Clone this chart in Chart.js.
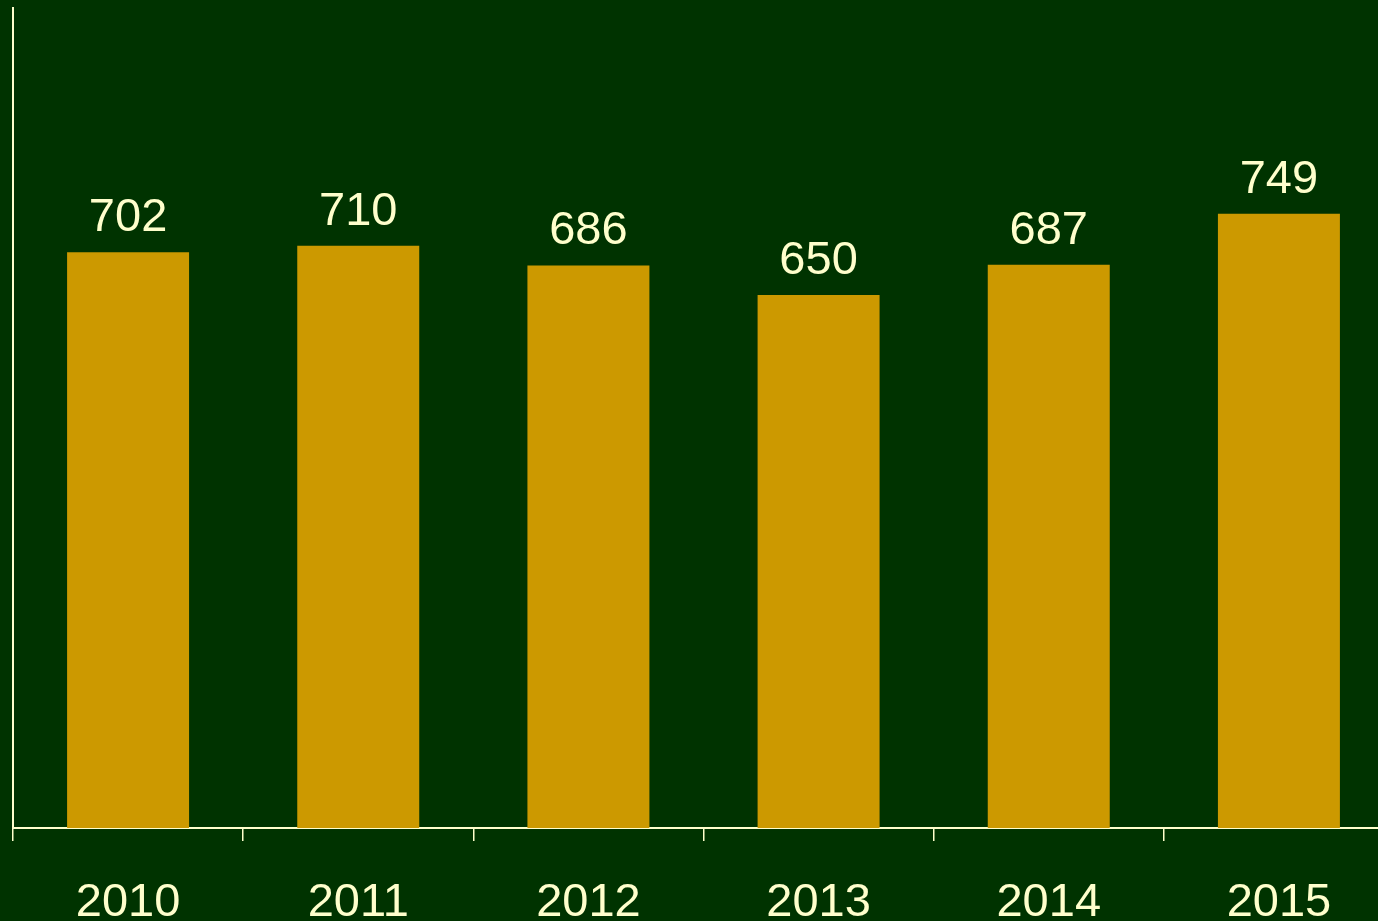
<!DOCTYPE html>
<html>
<head>
<meta charset="utf-8">
<script src="https://cdn.jsdelivr.net/npm/chart.js@4/dist/chart.umd.min.js"></script>
<style>
  html, body { margin:0; padding:0; background:#003300; overflow:hidden; }
  #wrap { width:1394px; height:921px; position:relative; }
</style>
</head>
<body>
<div id="wrap"><canvas id="chart"></canvas></div>
<script>
const years = ['2010', '2011', '2012', '2013', '2014', '2015'];
const values = [702, 710, 686, 650, 687, 749];
const yMax = 1000;

const BG = '#003300', BAR = '#CC9900', INK = '#FFFFCC';
const FONT = 'Arial, "Liberation Sans", sans-serif';

// paint the dark green backdrop
const bgPlugin = {
  id: 'bg',
  beforeDraw(chart){
    const c = chart.ctx; c.save();
    c.fillStyle = BG; c.fillRect(0, 0, chart.width, chart.height);
    c.restore();
  }
};

// value above each bar
const valueLabels = {
  id: 'valueLabels',
  afterDatasetsDraw(chart){
    const c = chart.ctx; const meta = chart.getDatasetMeta(0);
    c.save();
    c.fillStyle = INK; c.font = '47px ' + FONT;
    c.textAlign = 'center'; c.textBaseline = 'alphabetic';
    meta.data.forEach((bar, i) => c.fillText(String(values[i]), bar.x, bar.y - 21));
    c.restore();
  }
};

new Chart(document.getElementById('chart'), {
  type: 'bar',
  data: { labels: years, datasets: [{ data: values, backgroundColor: BAR, borderWidth: 0,
    categoryPercentage: 1, barPercentage: 0.53 }] },
  options: {
    responsive: true, maintainAspectRatio: false, animation: false,
    layout: { padding: { top: 8, left: 0, right: 0, bottom: 0 } },
    plugins: { legend: { display: false }, tooltip: { enabled: false } },
    scales: {
      x: {
        offset: true,
        grid: { display: true, offset: true, drawOnChartArea: false, color: INK, lineWidth: 1.5, tickLength: 13 },
        border: { display: true, color: INK, width: 2 },
        ticks: { color: INK, font: { size: 47, family: FONT }, padding: 34 },
        afterFit(s){ s.height = 93; }
      },
      y: {
        min: 0, max: yMax,
        grid: { display: false },
        border: { display: true, color: INK, width: 2 },
        ticks: { display: false },
        afterFit(s){ s.width = 13; }
      }
    }
  },
  plugins: [bgPlugin, valueLabels]
});
</script>
</body>
</html>
